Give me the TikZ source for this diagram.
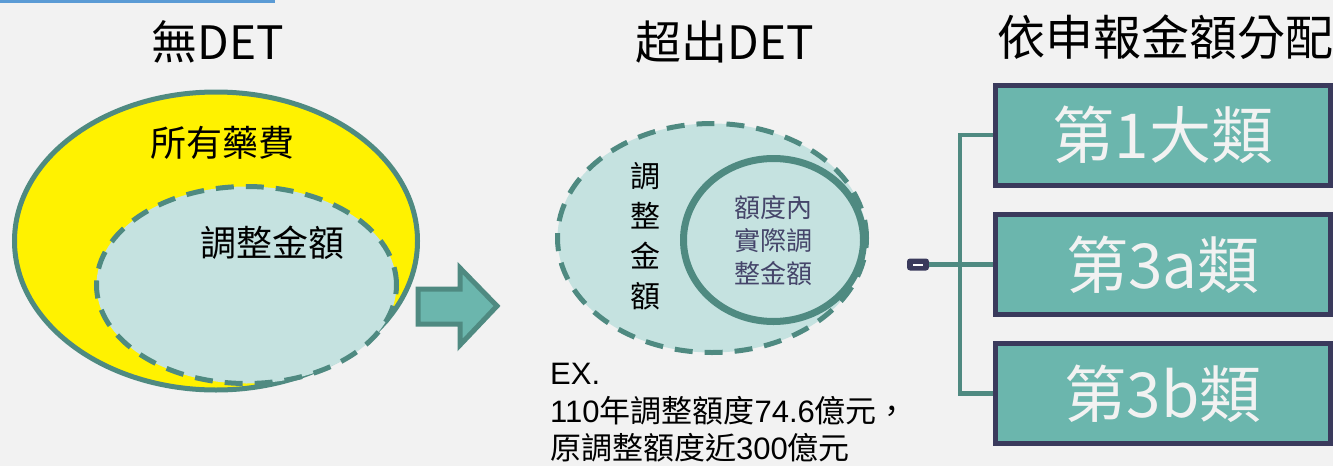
\documentclass[tikz,border=0pt]{standalone}
\usepackage{fontspec}
\setmainfont{Noto Sans CJK TC}
\newfontfamily\arialf{Liberation Sans}
\usetikzlibrary{shapes.geometric}
\definecolor{bgc}{HTML}{F2F2F2}
\definecolor{tealdk}{HTML}{4F8A81}
\definecolor{teallt}{HTML}{6BB6AD}
\definecolor{paleblue}{HTML}{C5E2E0}
\definecolor{navy}{HTML}{3A3A5C}
\definecolor{purpletxt}{HTML}{45456A}
\definecolor{topblue}{HTML}{5B9BD5}
\newcommand{\fsz}[2]{\fontsize{#1}{#2}\selectfont}
\begin{document}
\begin{tikzpicture}[x=1pt,y=-1pt,
  ell/.style={ellipse, inner sep=0pt, draw=tealdk, line width=5pt},
  dashell/.style={ell, dash pattern=on 18pt off 12pt},
  title/.style={inner sep=0pt, text=black, font=\fsz{46}{50}},
  catbox/.style={rectangle, draw=navy, fill=teallt, line width=5pt, minimum width=335pt, minimum height=100pt, inner sep=0pt, text=bgc, font=\fsz{62}{66}},
  conn/.style={draw=tealdk, line width=4.5pt},
  lbl/.style={inner sep=0pt, text=black}
]
\useasboundingbox (0,0) rectangle (1333,466);
\fill[bgc] (0,0) rectangle (1333,466);
\fill[topblue] (0,0) rectangle (275,2.5);

% titles
\node[title] (t1) at (218,42) {無DET};
\node[title] (t2) at (725,42) {超出DET};
\node[title, font=\fsz{48}{50}] (t3) at (1165,37) {依申報金額分配};

% left diagram
\node[ell, fill=yellow, minimum width=403pt, minimum height=298pt] (all) at (216,241) {};
\node[dashell, fill=paleblue, minimum width=300pt, minimum height=197pt] (adj) at (246.5,285) {};
\node[lbl, font=\fsz{36}{40}] (allt) at (222,143) {所有藥費};
\node[lbl, font=\fsz{36}{40}] (adjt) at (272,243) {調整金額};

% block arrow
\draw[fill=teallt, draw=tealdk, line width=5pt, line join=miter]
  (418,289) -- (460,289) -- (460,268) -- (497,306) -- (460,345) -- (460,324) -- (418,324) -- cycle;

% middle diagram
\node[dashell, fill=paleblue, minimum width=309pt, minimum height=229pt] (mid) at (712,238) {};
\node[ell, line width=7pt, minimum width=180pt, minimum height=163pt] (circ) at (773.5,240) {};
\node[lbl, align=center, font=\fsz{30}{40}] (midt) at (645,236) {調\\整\\金\\額};
\node[lbl, align=center, text=purpletxt, font=\fsz{26}{33}] (circt) at (773,241) {額度內\\實際調\\整金額};

% example text
\node[lbl, align=left, anchor=west, font=\fsz{31}{37.5}] (ex) at (550,413)
  {{\arialf EX.}\\{\arialf 110}年調整額度{\arialf 74.6}億元，\\原調整額度近{\arialf 300}億元};

% right side
\node[catbox] (b1) at (1163,135) {第1大類};
\node[catbox] (b2) at (1163,264.5) {第3a類};
\node[catbox] (b3) at (1163,393.5) {第3b類};
\coordinate (jn) at (960,264.5);
\node[rectangle, rounded corners=3pt, fill=navy, minimum width=22pt, minimum height=12pt, inner sep=0pt] (minus) at (918,264.5) {};
\draw[conn] (minus.east) -- (b2.west);
\draw[conn] (b1.west) -| (jn) |- (b3.west);
\draw[white, line width=2pt] ([xshift=-5pt]minus.center) -- ([xshift=5pt]minus.center);
\end{tikzpicture}
\end{document}
